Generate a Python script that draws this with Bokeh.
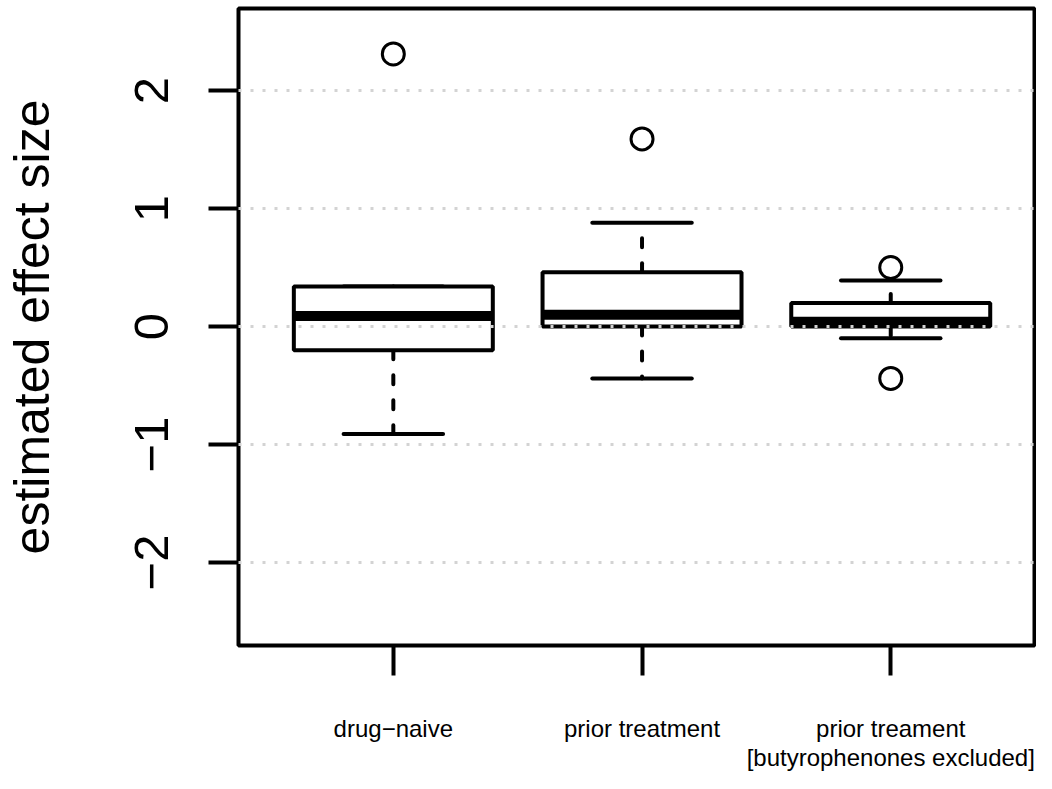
from bokeh.plotting import figure
from bokeh.models import FixedTicker, Range1d
from bokeh.embed import file_html
from bokeh.resources import INLINE

# ---- data ----
groups = [1, 2, 3]
group_labels = ["drug−naive", "prior treatment", "prior treament\n[butyrophenones excluded]"]
q1 = [-0.20, 0.00, 0.00]
medians = [0.09, 0.10, 0.04]
q3 = [0.34, 0.46, 0.20]
whisker_lo = [-0.91, -0.44, -0.10]
whisker_hi = [0.34, 0.88, 0.39]
outlier_group = [1, 2, 3, 3]
outlier_value = [2.31, 1.59, 0.50, -0.44]
y_ticks = [-2, -1, 0, 1, 2]
y_tick_labels = ["−2", "−1", "0", "1", "2"]

# ---- styles ----
BOX_HALF = 0.4
STAPLE_HALF = 0.2
FONT = "Liberation Sans"

p = figure(width=1036, height=773, output_backend="svg", toolbar_location=None,
           x_range=Range1d(0.3775, 3.578), y_range=Range1d(-2.703, 2.695),
           min_border_left=237, min_border_right=2, min_border_top=8, min_border_bottom=128,
           background_fill_color="white", border_fill_color="white")
p.outline_line_color = "black"
p.outline_line_width = 4

# whiskers (dashed)
p.segment(x0=groups, x1=groups, y0=q3, y1=whisker_hi, line_color="black",
          line_width=4, line_dash="9 16", line_cap="round")
p.segment(x0=groups, x1=groups, y0=q1, y1=whisker_lo, line_color="black",
          line_width=4, line_dash="9 16", line_cap="round")
# staples
p.segment(x0=[g - STAPLE_HALF for g in groups], x1=[g + STAPLE_HALF for g in groups],
          y0=whisker_hi, y1=whisker_hi, line_color="black", line_width=4, line_cap="round")
p.segment(x0=[g - STAPLE_HALF for g in groups], x1=[g + STAPLE_HALF for g in groups],
          y0=whisker_lo, y1=whisker_lo, line_color="black", line_width=4, line_cap="round")
# boxes
p.quad(left=[g - BOX_HALF for g in groups], right=[g + BOX_HALF for g in groups],
       bottom=q1, top=q3, fill_color="white", line_color="black", line_width=4)
# medians
p.segment(x0=[g - BOX_HALF for g in groups], x1=[g + BOX_HALF for g in groups],
          y0=medians, y1=medians, line_color="black", line_width=10)
# outliers
p.scatter(x=outlier_group, y=outlier_value, marker="circle", size=22,
          fill_color=None, line_color="black", line_width=3)

# grid (dotted, drawn over the boxes)
p.xgrid.visible = False
p.ygrid.ticker = FixedTicker(ticks=y_ticks)
p.ygrid.grid_line_color = "#d3d3d3"
p.ygrid.grid_line_width = 3
p.ygrid.grid_line_dash = "3 9"
p.ygrid.level = "annotation"

# y axis
ya = p.yaxis[0]
ya.ticker = FixedTicker(ticks=y_ticks)
ya.major_label_overrides = {t: s for t, s in zip(y_ticks, y_tick_labels)}
ya.major_label_orientation = "vertical"
ya.major_label_text_font = FONT
ya.major_label_text_font_size = "49px"
ya.major_label_text_color = "black"
ya.major_label_standoff = 40
ya.major_tick_out = 30
ya.major_tick_in = 0
ya.major_tick_line_width = 4
ya.major_tick_line_color = "black"
ya.minor_tick_line_color = None
ya.axis_line_color = None
ya.axis_label = "estimated effect size"
ya.axis_label_text_font = FONT
ya.axis_label_text_font_size = "50px"
ya.axis_label_text_font_style = "normal"
ya.axis_label_text_color = "black"
ya.axis_label_standoff = 73

# x axis
xa = p.xaxis[0]
xa.ticker = FixedTicker(ticks=groups)
xa.major_label_overrides = {g: s for g, s in zip(groups, group_labels)}
xa.major_label_text_font = FONT
xa.major_label_text_font_size = "24px"
xa.major_label_text_color = "black"
xa.major_label_text_line_height = 1.09
xa.major_label_standoff = 39
xa.major_tick_out = 30
xa.major_tick_in = 0
xa.major_tick_line_width = 4
xa.major_tick_line_color = "black"
xa.minor_tick_line_color = None
xa.axis_line_color = None

open("out.html", "w").write(file_html(p, INLINE))
